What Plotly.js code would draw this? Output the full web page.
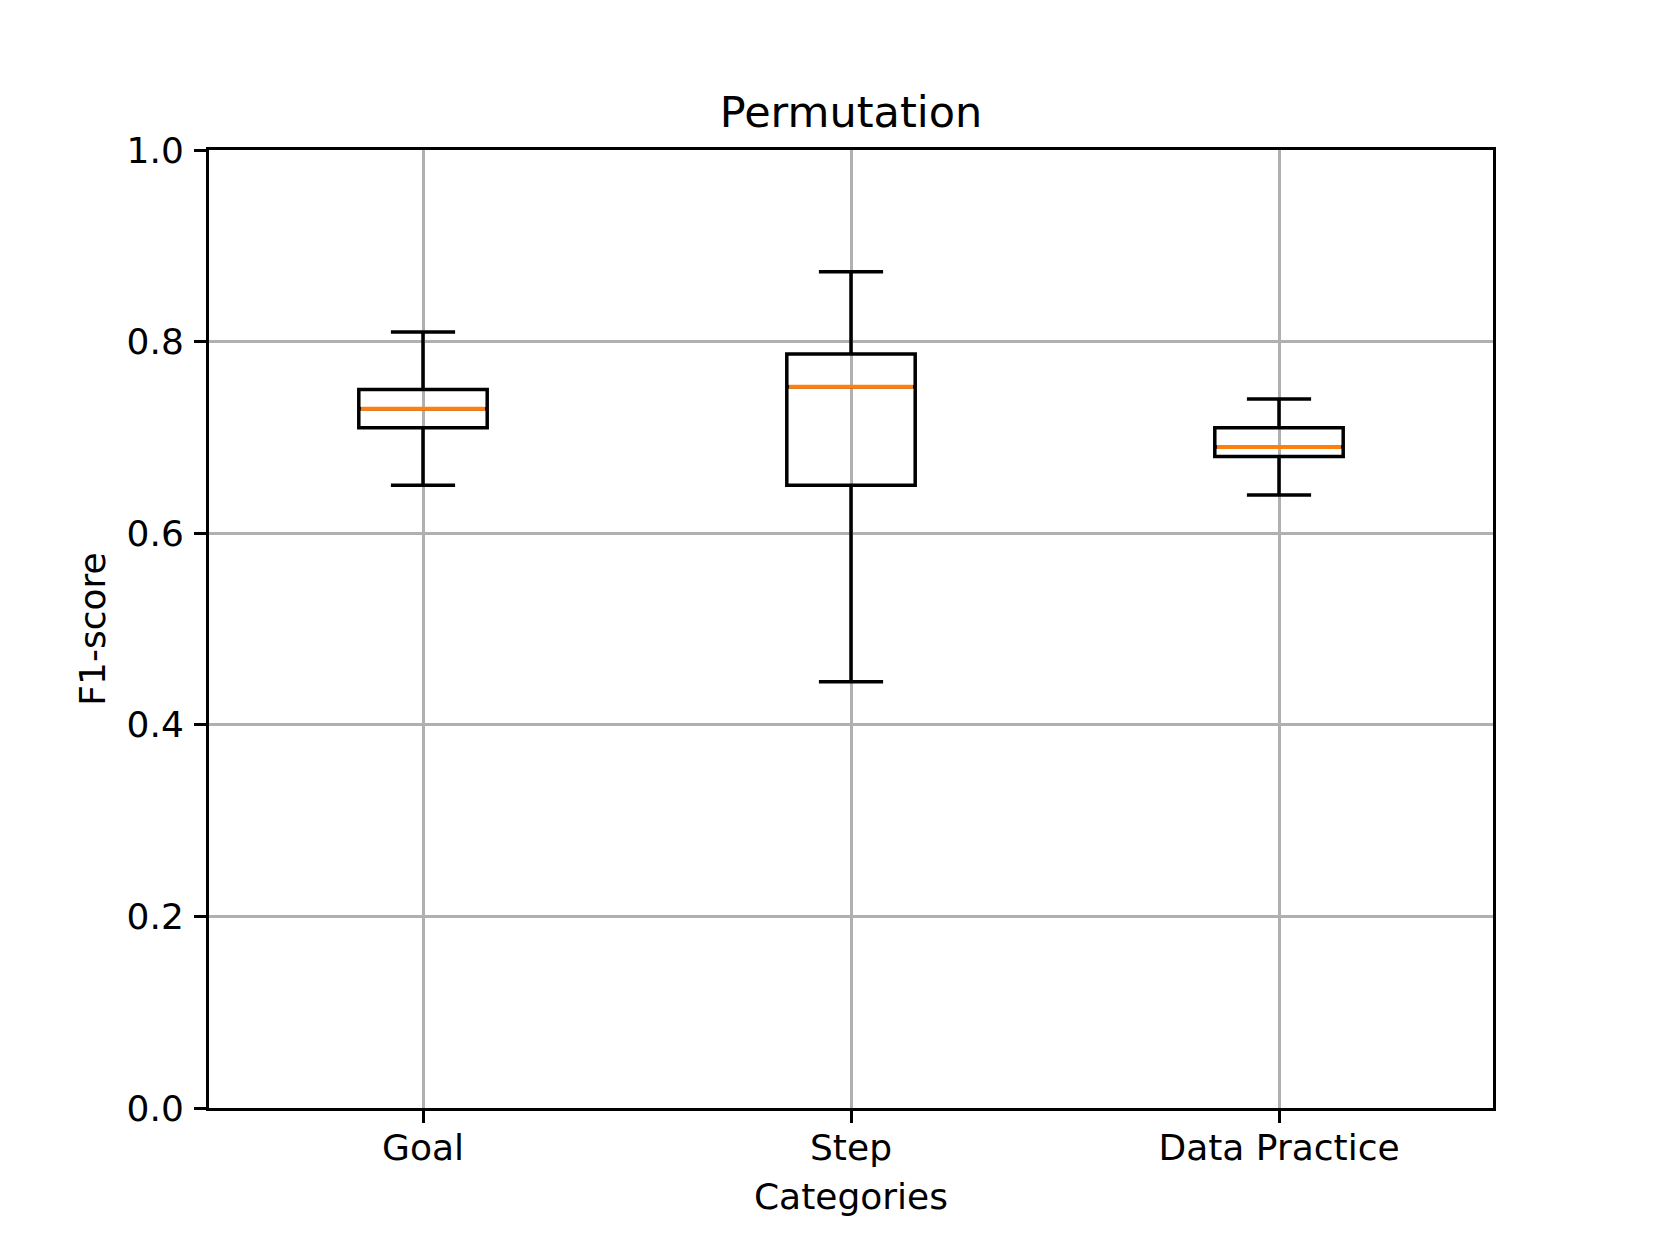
<!DOCTYPE html>
<html>
<head>
<meta charset="utf-8">
<script src="https://cdn.plot.ly/plotly-3.0.1.min.js"></script>
<style>
  html, body { margin: 0; padding: 0; background: #fff; }
  #grafico { width: 1660px; height: 1245px; }
</style>
</head>
<body>
<div id="grafico"></div>
<script>
// valores
let categorias = ['Goal', 'Step', 'Data Practice'];
let bigoteInf = [0.650, 0.445, 0.640];
let cuartil1 = [0.710, 0.650, 0.680];
let mediana = [0.730, 0.753, 0.690];
let cuartil3 = [0.750, 0.787, 0.710];
let bigoteSup = [0.810, 0.873, 0.740];
let marcasY = [0, 0.2, 0.4, 0.6, 0.8, 1.0];

let cajas = {
	type: 'box',
	x: categorias,
	q1: cuartil1,
	median: mediana,
	q3: cuartil3,
	lowerfence: bigoteInf,
	upperfence: bigoteSup,
	width: 0.3,
	whiskerwidth: 0.5,
	fillcolor: 'rgba(0,0,0,0)',
	line: { color: '#000000', width: 3.5 },
	boxpoints: false,
	hoverinfo: 'skip',
	showlegend: false
};

// linea de la mediana en naranja, encima de las cajas
let medianas = {
	type: 'box',
	x: categorias,
	q1: mediana,
	median: mediana,
	q3: mediana,
	lowerfence: mediana,
	upperfence: mediana,
	width: 0.29,
	whiskerwidth: 0,
	fillcolor: 'rgba(0,0,0,0)',
	line: { color: '#ff7f0e', width: 4 },
	boxpoints: false,
	hoverinfo: 'skip',
	showlegend: false
};

let layout = {
	width: 1660,
	height: 1245,
	paper_bgcolor: '#ffffff',
	plot_bgcolor: '#ffffff',
	font: { family: 'DejaVu Sans', size: 36, color: '#000000' },
	margin: { l: 209, r: 167, t: 150, b: 137, pad: 0 },
	boxmode: 'overlay',
	title: {
		text: 'Permutation',
		font: { size: 43 },
		x: 0.5,
		xref: 'paper',
		xanchor: 'center',
		y: 1,
		yref: 'paper',
		yanchor: 'bottom',
		pad: { b: 23 }
	},
	xaxis: {
		type: 'category',
		range: [-0.5, 2.5],
		title: { text: 'Categories', font: { size: 36 }, standoff: 17 },
		showgrid: true,
		gridcolor: '#b0b0b0',
		gridwidth: 3,
		showline: true,
		linecolor: '#000000',
		linewidth: 3,
		mirror: true,
		ticks: 'outside',
		ticklen: 12,
		tickwidth: 3,
		tickcolor: '#000000',
		ticklabelstandoff: -6,
		zeroline: false
	},
	yaxis: {
		range: [0, 1],
		tickvals: marcasY,
		tickformat: '.1f',
		title: { text: 'F1-score', font: { size: 36 }, standoff: 10 },
		showgrid: true,
		gridcolor: '#b0b0b0',
		gridwidth: 3,
		showline: true,
		linecolor: '#000000',
		linewidth: 3,
		mirror: true,
		ticks: 'outside',
		ticklen: 12,
		tickwidth: 3,
		tickcolor: '#000000',
		ticklabelstandoff: 3,
		zeroline: false
	}
};

let contenedor = document.getElementById('grafico');
Plotly.newPlot(contenedor, [cajas, medianas], layout, { displayModeBar: false, staticPlot: true });
</script>
</body>
</html>
